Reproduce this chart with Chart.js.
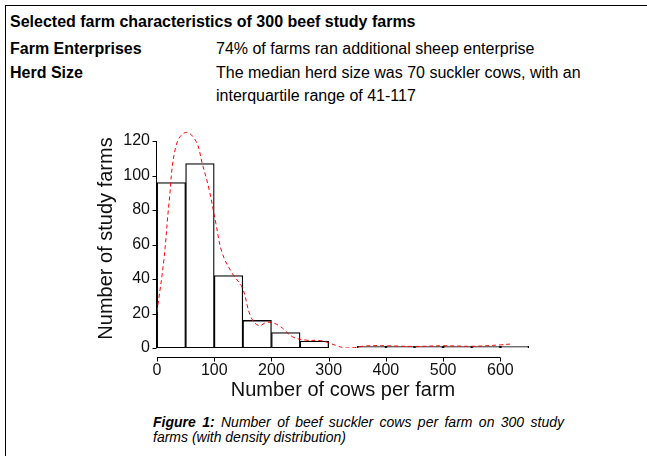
<!DOCTYPE html>
<html>
<head>
<meta charset="utf-8">
<script src="https://cdn.jsdelivr.net/npm/chart.js@4"></script>
<style>
  body { margin: 0; width: 647px; height: 456px; background: #fff; position: relative; overflow: hidden;
         font-family: "Liberation Sans", Arial, sans-serif; color: #000; }
  .frame { position: absolute; left: 5px; top: 5px; width: 650px; height: 460px;
           border-top: 1px solid #000; border-left: 1px solid #000; }
  .t { position: absolute; font-size: 16px; line-height: 16px; white-space: nowrap; }
  .b { font-weight: bold; }
  #wrap { position: absolute; left: 80px; top: 120px; width: 470px; height: 282px; }
  .cap { position: absolute; left: 153px; top: 415px; width: 411px; font-size: 14px; line-height: 15px;
         font-style: italic; text-align: justify; }
</style>
</head>
<body>
<div class="frame"></div>
<div class="t b" style="left:10px;top:14px">Selected farm characteristics of 300 beef study farms</div>
<div class="t b" style="left:10px;top:41px">Farm Enterprises</div>
<div class="t" style="left:216px;top:41px">74% of farms ran additional sheep enterprise</div>
<div class="t b" style="left:10px;top:65px">Herd Size</div>
<div class="t" style="left:216px;top:65px">The median herd size was 70 suckler cows, with an</div>
<div class="t" style="left:216px;top:88px">interquartile range of 41-117</div>
<div id="wrap"><canvas id="histChart"></canvas></div>
<div class="cap"><b>Figure 1:</b> Number of beef suckler cows per farm on 300 study farms (with density distribution)</div>
<script>
const binCenters = [25, 75, 125, 175, 225, 275, 325, 375, 425, 475, 525, 575, 625];
const farmCounts = [96, 107, 42, 16, 9, 4, 0, 1, 1, 1, 1, 1, 1];
const densityX = [0, 12, 21, 33, 50, 68, 79, 91, 103, 114, 132, 149, 164, 178, 193, 213, 237, 260, 285, 300, 315, 330, 345, 365, 400, 450, 500, 550, 600, 620];
const densityY = [21, 51, 84, 117, 125, 120, 107, 92, 72, 55, 43, 35, 18, 13, 15, 13, 6.5, 4.6, 4.3, 3, 1.2, 0, 0.2, 1.2, 1.3, 0.9, 1.3, 1, 1.8, 2.4];
const xTicks = [0, 100, 200, 300, 400, 500, 600];
const yTicks = [0, 20, 40, 60, 80, 100, 120];

const H = 282;
const axisFont = { family: '"Liberation Sans", Arial, sans-serif', size: 16 };

// R style axes: lines only over the tick range, x axis pushed below the bars
const rAxes = {
  id: 'rAxes',
  afterDraw(chart) {
    const { ctx, scales: { x, y } } = chart;
    ctx.save();
    ctx.strokeStyle = '#000';
    ctx.lineWidth = 1;
    const x0 = Math.round(x.getPixelForValue(0)) - 0.5;
    ctx.beginPath();
    ctx.moveTo(x0, y.getPixelForValue(0));
    ctx.lineTo(x0, y.getPixelForValue(120));
    yTicks.forEach(v => {
      const py = Math.round(y.getPixelForValue(v)) + 0.5;
      ctx.moveTo(x0 - 4, py);
      ctx.lineTo(x0, py);
    });
    const ay = Math.round(y.getPixelForValue(0)) + 9.5;
    ctx.moveTo(x.getPixelForValue(0), ay);
    ctx.lineTo(x.getPixelForValue(600), ay);
    xTicks.forEach(v => {
      const px = Math.round(x.getPixelForValue(v)) + 0.5;
      ctx.moveTo(px, ay);
      ctx.lineTo(px, ay + 4);
    });
    ctx.stroke();
    ctx.restore();
  }
};

new Chart(document.getElementById('histChart'), {
  type: 'bar',
  data: {
    datasets: [{
      type: 'line',
      data: densityX.map((v, i) => ({ x: v, y: densityY[i] })),
      borderColor: '#ff0000',
      borderWidth: 1,
      borderDash: [4, 3],
      pointRadius: 0,
      tension: 0.4,
      fill: false,
      order: 0
    }, {
      type: 'bar',
      data: binCenters.map((v, i) => ({ x: v, y: farmCounts[i] })),
      backgroundColor: '#ffffff',
      borderColor: '#000000',
      borderWidth: 1.3,
      borderSkipped: false,
      barPercentage: 1,
      categoryPercentage: 1,
      order: 1
    }]
  },
  options: {
    responsive: true,
    maintainAspectRatio: false,
    animation: false,
    layout: { padding: { top: 9, right: 21, left: 0, bottom: 0 } },
    plugins: { legend: { display: false }, tooltip: { enabled: false } },
    scales: {
      x: {
        type: 'linear',
        offset: false,
        min: 0,
        max: 650,
        grid: { display: false, drawTicks: false },
        border: { display: false },
        ticks: { stepSize: 100, includeBounds: false, padding: 13, color: '#111', font: axisFont, maxRotation: 0 },
        title: { display: true, text: 'Number of cows per farm', color: '#111',
                 font: { family: axisFont.family, size: 20 }, padding: { top: 4, bottom: 0 } },
        afterFit: s => { s.height = H - 228; s.paddingLeft = 0; s.paddingRight = 0; }
      },
      y: {
        min: 0,
        max: 127,
        grid: { display: false, drawTicks: false },
        border: { display: false },
        ticks: { stepSize: 20, includeBounds: false, padding: 7, color: '#111', font: axisFont },
        title: { display: true, text: 'Number of study farms', color: '#111',
                 font: { family: axisFont.family, size: 20 }, padding: { top: 14, bottom: 0 } },
        afterFit: s => { s.width = 77; s.paddingTop = 0; s.paddingBottom = 0; }
      }
    }
  },
  plugins: [rAxes]
});
</script>
</body>
</html>
